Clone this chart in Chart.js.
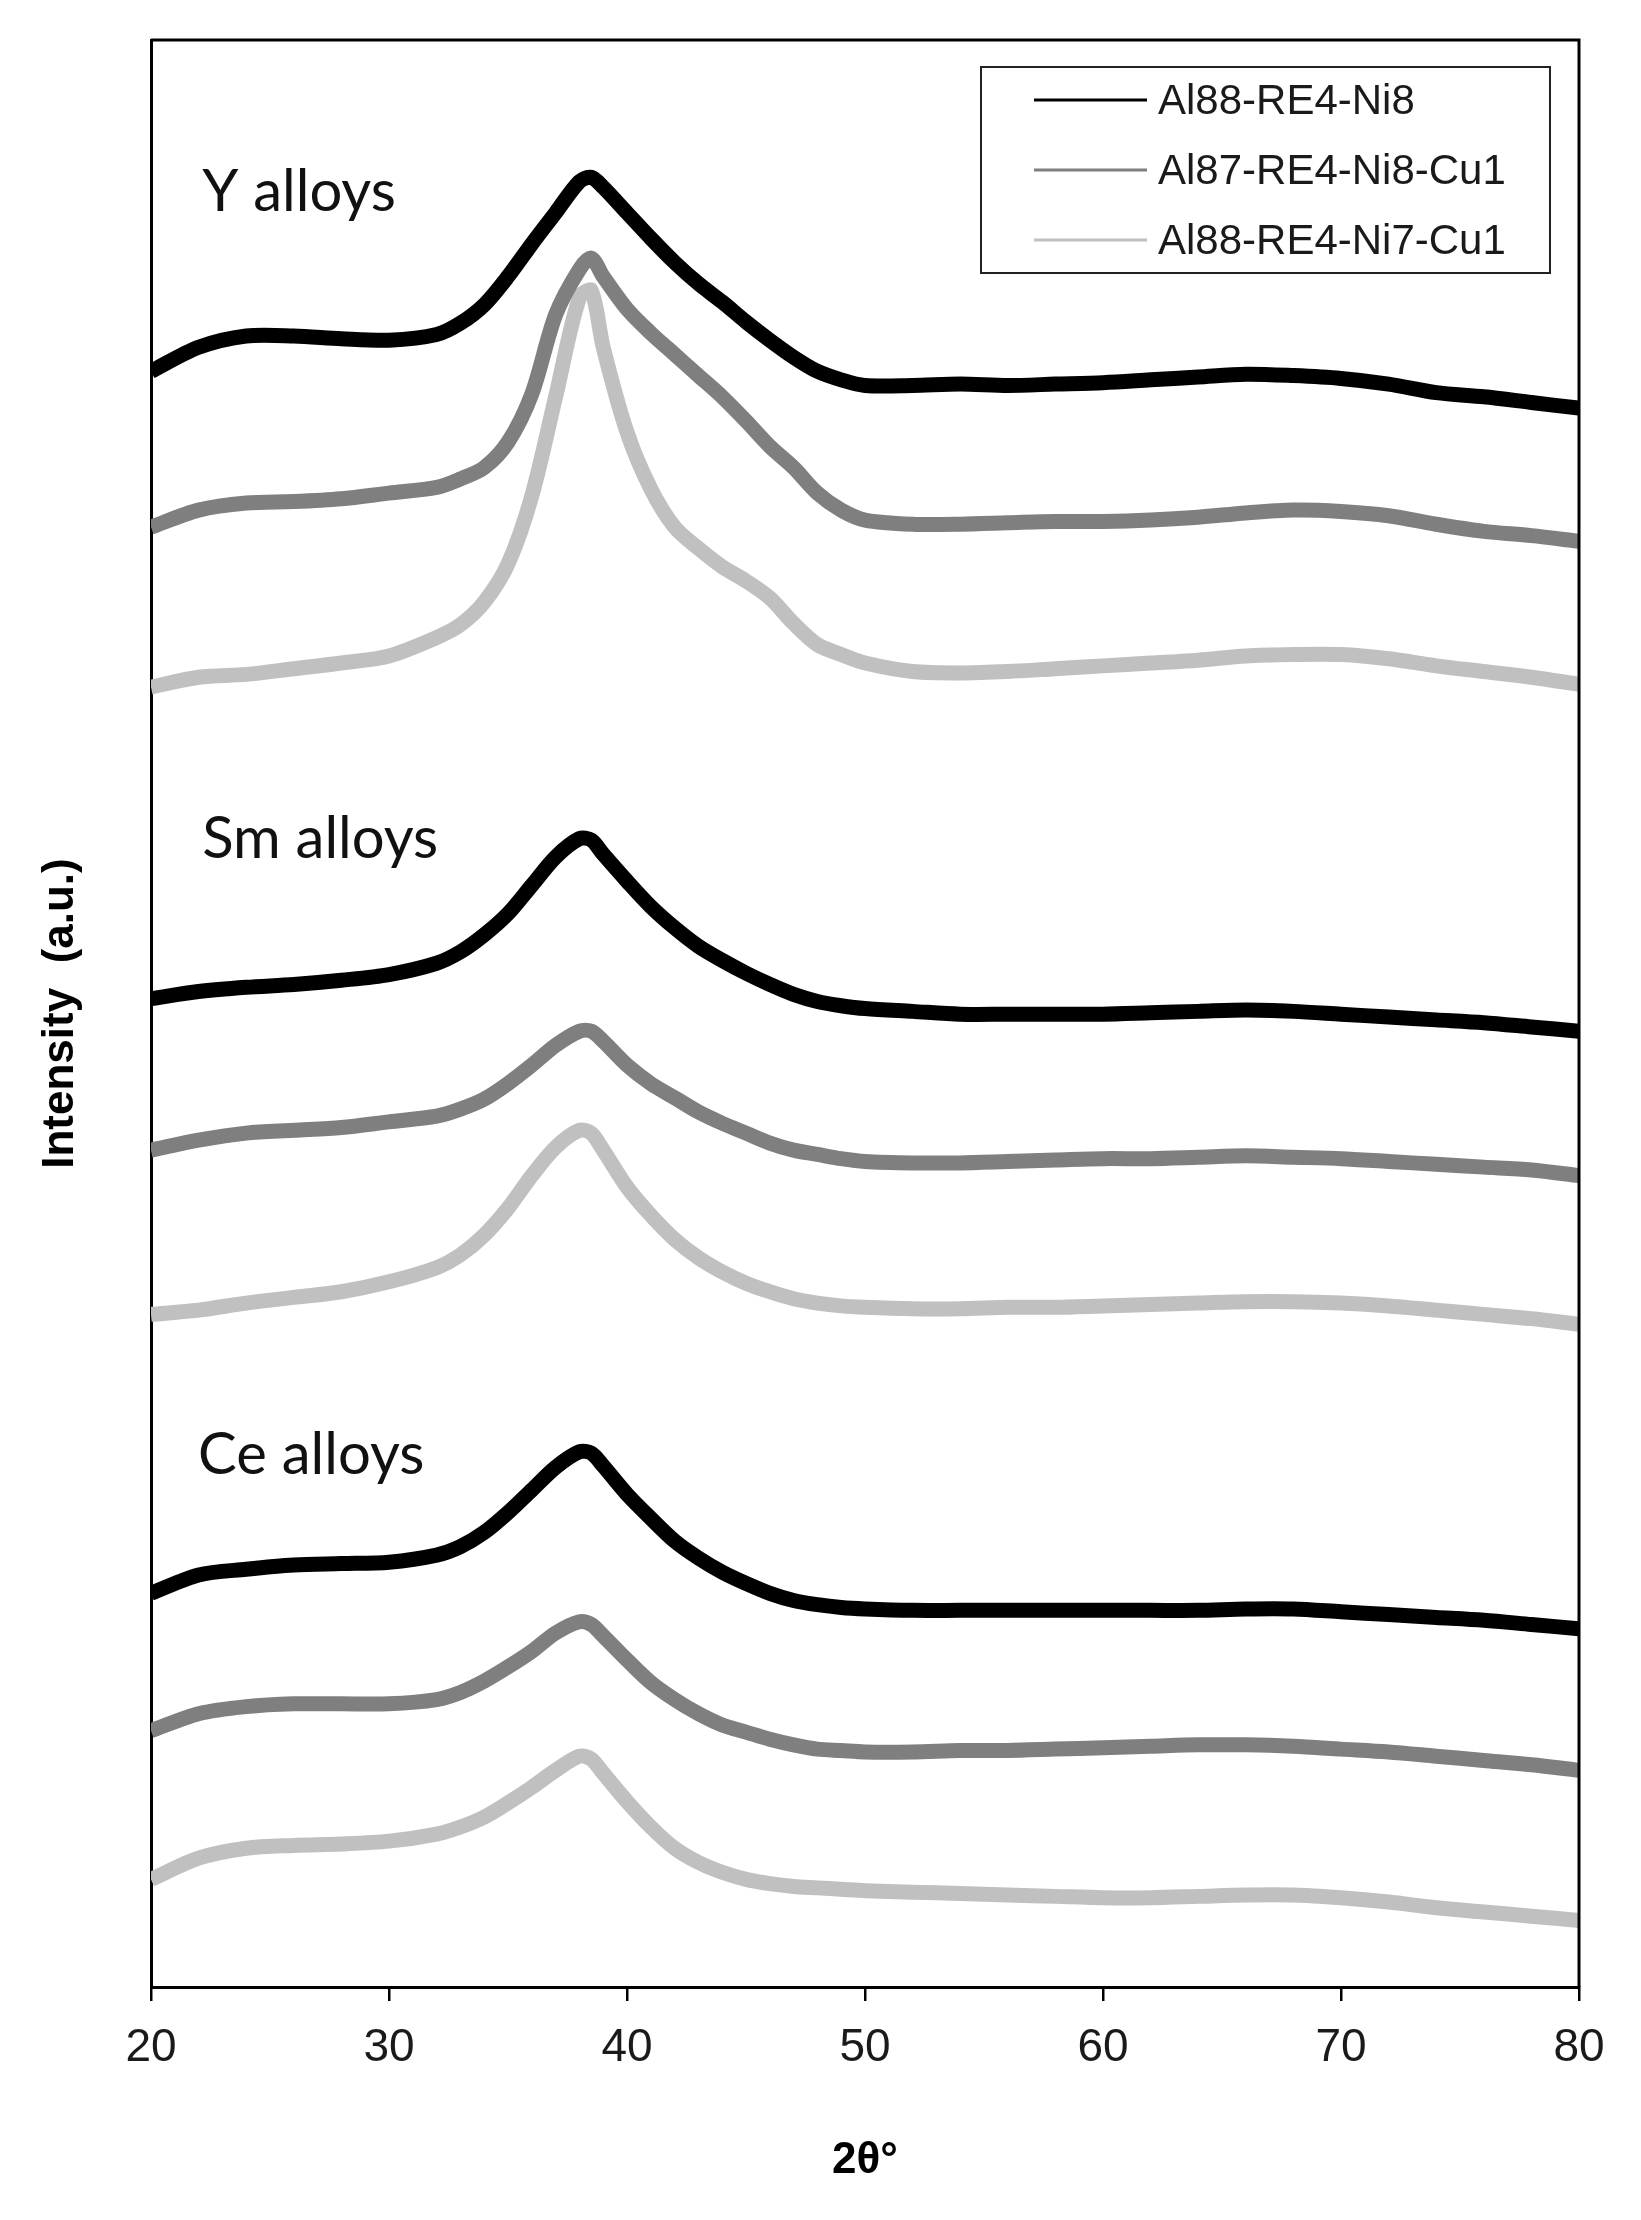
<!DOCTYPE html>
<html>
<head>
<meta charset="utf-8">
<title>XRD patterns</title>
<script src="https://cdn.jsdelivr.net/npm/chart.js@4.4.0/dist/chart.umd.min.js"></script>
<style>
  html, body { margin: 0; padding: 0; background: #fff; }
  #wrap { width: 1641px; height: 2220px; }
</style>
</head>
<body>
<div id="wrap"><canvas id="xrd" width="1641" height="2220"></canvas></div>
<script>
const twoTheta = [20, 22, 24, 26, 28, 30, 32, 33, 34, 35, 36, 37, 38, 38.5, 39, 40, 41, 42, 43, 44, 45, 46, 47, 48, 49, 50,
                  52, 54, 56, 58, 60, 62, 64, 66, 68, 70, 72, 74, 76, 78, 80];

const seriesNames = ['Al88-RE4-Ni8', 'Al87-RE4-Ni8-Cu1', 'Al88-RE4-Ni7-Cu1'];
const seriesColors = ['#000000', '#7f7f7f', '#c0c0c0'];
const xTicks = [20, 30, 40, 50, 60, 70, 80];

// intensity (a.u.), curves already offset as stacked in the figure
// Y alloys
const yNi8    = [1141, 1158, 1166, 1166, 1164, 1163, 1167, 1175, 1188, 1208, 1231, 1253, 1275, 1278, 1271, 1253, 1235, 1218, 1203, 1190, 1176, 1163, 1151, 1141, 1135, 1131,
                 1131, 1132, 1131, 1132, 1133, 1135, 1137, 1139, 1138, 1136, 1132, 1126, 1123, 1119, 1115];
const yNi8Cu1 = [1031, 1043, 1048, 1049, 1051, 1055, 1059, 1065, 1073, 1091, 1125, 1181, 1213, 1221, 1208, 1185, 1168, 1153, 1138, 1123, 1106, 1088, 1073, 1055, 1043, 1036,
                 1033, 1033, 1034, 1035, 1035, 1036, 1038, 1041, 1043, 1042, 1039, 1033, 1028, 1025, 1021];
const yNi7Cu1 = [918, 925, 927, 931, 935, 940, 953, 962, 978, 1005, 1053, 1123, 1193, 1198, 1158, 1098, 1058, 1031, 1016, 1003, 993, 981, 963, 948, 941, 935,
                 929, 928, 929, 931, 933, 935, 937, 940, 941, 941, 938, 933, 929, 925, 920];
// Sm alloys
const smNi8    = [698, 703, 706, 708, 711, 715, 723, 731, 743, 758, 778, 798, 811, 810, 800, 781, 763, 748, 735, 725, 716, 708, 701, 696, 693, 691,
                  689, 687, 687, 687, 687, 688, 689, 690, 689, 687, 685, 683, 681, 678, 675];
const smNi8Cu1 = [591, 598, 603, 605, 607, 611, 615, 620, 627, 638, 651, 665, 675, 675, 668, 651, 638, 628, 618, 610, 603, 596, 591, 588, 585, 583,
                  582, 582, 583, 584, 585, 585, 586, 587, 586, 585, 583, 581, 579, 577, 573];
const smNi7Cu1 = [475, 478, 483, 487, 491, 498, 508, 517, 531, 550, 573, 593, 605, 603, 591, 565, 545, 528, 515, 505, 497, 491, 486, 483, 481, 480,
                  479, 479, 480, 480, 481, 482, 483, 484, 484, 483, 481, 478, 475, 472, 468];
// Ce alloys
const ceNi8    = [278, 291, 295, 298, 299, 300, 305, 311, 321, 335, 351, 367, 378, 377, 368, 348, 331, 315, 303, 293, 285, 278, 273, 270, 268, 267,
                  266, 266, 266, 266, 266, 266, 266, 267, 267, 265, 263, 261, 259, 256, 253];
const ceNi8Cu1 = [181, 193, 198, 200, 200, 200, 203, 208, 216, 226, 237, 250, 258, 256, 248, 231, 215, 203, 193, 185, 180, 175, 171, 168, 167, 166,
                  166, 167, 167, 168, 169, 170, 171, 171, 170, 168, 166, 163, 160, 157, 153];
const ceNi7Cu1 = [76, 91, 98, 100, 101, 103, 108, 113, 120, 130, 141, 153, 163, 161, 151, 131, 113, 98, 88, 81, 76, 73, 71, 70, 69, 68,
                  67, 66, 65, 64, 63, 63, 64, 65, 65, 63, 60, 56, 53, 50, 47];

const groupNames = ['Y alloys', 'Sm alloys', 'Ce alloys'];
const groupCurves = [
  [yNi8, yNi8Cu1, yNi7Cu1],
  [smNi8, smNi8Cu1, smNi7Cu1],
  [ceNi8, ceNi8Cu1, ceNi7Cu1]
];
// where each group caption sits, in data units (2theta, intensity of the baseline)
const groupCaptionAt = [[22.15, 1254], [22.15, 797], [21.98, 362]];

const tickFont = 'Liberation Sans, Arial, sans-serif';

const datasets = [];
groupCurves.forEach((curves, g) => {
  curves.forEach((vals, i) => {
    datasets.push({
      label: groupNames[g] + ' ' + seriesNames[i],
      data: twoTheta.map((t, k) => ({ x: t, y: vals[k] })),
      borderColor: seriesColors[i],
      backgroundColor: seriesColors[i],
      borderWidth: 15,
      pointRadius: 0,
      tension: 0.3,
      fill: false,
      order: i
    });
  });
});

// box frame, group captions and the legend box
const decorations = {
  id: 'decorations',
  afterDraw(chart) {
    const { ctx, chartArea: a, scales } = chart;
    ctx.save();

    // top and right edges of the plot frame
    ctx.strokeStyle = '#000';
    ctx.lineWidth = 3;
    ctx.beginPath();
    ctx.moveTo(a.left, a.top);
    ctx.lineTo(a.right, a.top);
    ctx.lineTo(a.right, a.bottom);
    ctx.stroke();

    // group captions
    ctx.fillStyle = '#111';
    ctx.font = '58px Lato, "Open Sans", sans-serif';
    ctx.textBaseline = 'alphabetic';
    ctx.textAlign = 'left';
    groupNames.forEach((name, g) => {
      const [gx, gy] = groupCaptionAt[g];
      ctx.fillText(name, scales.x.getPixelForValue(gx), scales.y.getPixelForValue(gy));
    });

    // legend
    const bw = 569, bh = 206;
    const bx = a.right - 29 - bw, by = a.top + 27;
    ctx.fillStyle = '#fff';
    ctx.fillRect(bx, by, bw, bh);
    ctx.strokeStyle = '#222';
    ctx.lineWidth = 2;
    ctx.strokeRect(bx, by, bw, bh);
    ctx.font = '42px ' + tickFont;
    ctx.textBaseline = 'middle';
    seriesNames.forEach((name, i) => {
      const ry = by + 33 + i * 70;
      ctx.strokeStyle = seriesColors[i];
      ctx.lineWidth = 3;
      ctx.beginPath();
      ctx.moveTo(bx + 53, ry);
      ctx.lineTo(bx + 166, ry);
      ctx.stroke();
      ctx.fillStyle = '#1a1a1a';
      ctx.fillText(name, bx + 177, ry + 2);
    });
    ctx.restore();
  }
};

new Chart(document.getElementById('xrd'), {
  type: 'line',
  data: { datasets },
  options: {
    responsive: false,
    animation: false,
    events: [],
    layout: { padding: { left: 0, top: 40, right: 62, bottom: 0 } },
    scales: {
      x: {
        type: 'linear',
        min: 20,
        max: 80,
        afterBuildTicks: (s) => { s.ticks = xTicks.map(v => ({ value: v })); },
        ticks: {
          color: '#1a1a1a',
          font: { family: tickFont, size: 46 },
          padding: 20,
          maxRotation: 0
        },
        grid: {
          display: true,
          drawOnChartArea: false,
          drawTicks: true,
          tickLength: 14,
          color: '#000',
          lineWidth: 2.5
        },
        border: { display: true, color: '#000', width: 3 },
        title: {
          display: true,
          text: '2θ°',
          color: '#000',
          font: { family: tickFont, size: 44, weight: 'bold' },
          padding: { top: 0, bottom: 33 }
        },
        afterFit: (s) => { s.height = 233; }
      },
      y: {
        type: 'linear',
        min: 0,
        max: 1375,
        ticks: { display: false },
        grid: { display: false },
        border: { display: true, color: '#000', width: 3 },
        title: {
          display: true,
          text: 'Intensity  (a.u.)',
          color: '#000',
          font: { family: tickFont, size: 44, weight: 'bold' },
          padding: { top: 34, bottom: 0 }
        },
        afterFit: (s) => { s.width = 151; }
      }
    },
    plugins: {
      legend: { display: false },
      tooltip: { enabled: false }
    }
  },
  plugins: [decorations]
});
</script>
</body>
</html>
